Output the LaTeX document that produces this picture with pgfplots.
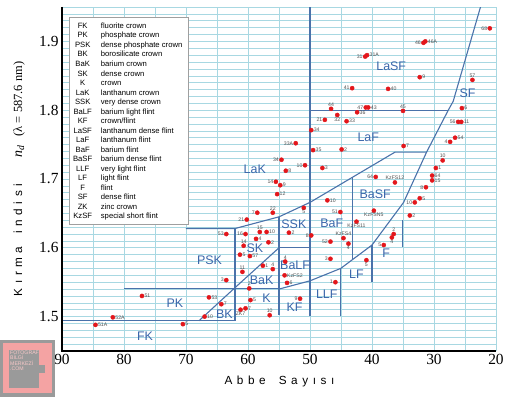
\documentclass[border=0pt]{standalone}
\usepackage{pgfplots}
\pgfplotsset{compat=1.18}
\usepackage{fontspec}
\setmainfont{Liberation Serif}
\setsansfont{Liberation Sans}
\definecolor{gridc}{HTML}{A8D8E2}
\definecolor{bndc}{HTML}{4A72AA}
\definecolor{regtxt}{HTML}{3A66AA}
\definecolor{ptred}{HTML}{E3161B}
\definecolor{lblc}{HTML}{505050}
\definecolor{pinkc}{HTML}{F4A3A3}
\definecolor{wmgray}{HTML}{9A9A9A}
\newcommand\ls{\hspace{4.6bp}}
\tikzset{
  bline/.style={color=bndc, line width=1.1bp},
  lbl/.style={font=\sffamily\fontsize{5.2}{5.2}\selectfont, text=lblc, inner sep=0.8bp},
  reg/.style={font=\sffamily\fontsize{12.5}{13}\selectfont, text=regtxt, inner sep=0pt},
}
\pgfplotsset{
  pts/.style={only marks, mark=*, mark size=2.1pt, color=ptred, mark options={draw=none, fill=ptred}},
}
\begin{document}
\begin{tikzpicture}
\useasboundingbox (-62bp,-47bp) rectangle (448bp,351bp);
\begin{axis}[
  scale only axis, width=434bp, height=344bp,
  at={(0,0)}, anchor=south west,
  xmin=20, xmax=90, ymin=1.45, ymax=1.95, x dir=reverse,
  xtick={20,30,40,50,60,70,80,90},
  xticklabels={20,30,40,50,60,70,80,90},
  ytick={1.5,1.6,1.7,1.8,1.9},
  yticklabels={1.5,1.6,1.7,1.8,1.9},
  minor xtick={25,35,45,55,65,75,85},
  minor ytick={1.45,1.46,1.47,1.48,1.49,1.51,1.52,1.53,1.54,1.55,1.56,1.57,1.58,1.59,1.61,1.62,1.63,1.64,1.65,1.66,1.67,1.68,1.69,1.71,1.72,1.73,1.74,1.75,1.76,1.77,1.78,1.79,1.81,1.82,1.83,1.84,1.85,1.86,1.87,1.88,1.89,1.91,1.92,1.93,1.94,1.95},
  grid=both,
  major grid style={gridc, line width=0.7bp},
  minor grid style={gridc, line width=0.6bp},
  axis line style={draw=none},
  major tick length=0pt, minor tick length=0pt,
  tick label style={font=\fontsize{15.5}{16}\selectfont},
]
% region boundaries
\addplot[bline, no marks] coordinates {(55,1.540) (50,1.552) (45.05,1.570) (40,1.604) (34.9,1.666) (31.2,1.739) (27.7,1.800) (26.9,1.813) (22.5,1.95)};
\addplot[bline, no marks] coordinates {(70,1.628) (62.1,1.628) (55,1.645) (50,1.666) (36.3,1.739) (31.2,1.739)};
\addplot[bline, no marks] coordinates {(50,1.80) (27.7,1.80)};
\addplot[bline, no marks] coordinates {(50,1.95) (50,1.501)};
\addplot[bline, no marks] coordinates {(55,1.645) (55,1.503)};
\addplot[bline, no marks] coordinates {(55,1.60) (50,1.60)};
\addplot[bline, no marks] coordinates {(67.9,1.494) (62.1,1.542) (55,1.600)};
\addplot[bline, no marks] coordinates {(80,1.541) (55,1.541)};
\addplot[bline, no marks] coordinates {(90,1.494) (62.1,1.494)};
\addplot[bline, no marks] coordinates {(62.1,1.628) (62.1,1.494)};
\addplot[bline, no marks] coordinates {(45.05,1.570) (45.05,1.501)};
\addplot[bline, no marks] coordinates {(40,1.604) (40,1.551)};
\addplot[bline, no marks] coordinates {(35.1,1.640) (35.1,1.601)};
\addplot[bline, no marks] coordinates {(43.2,1.702) (43.2,1.582)};
% glasses, label to the right
\addplot[pts, nodes near coords, point meta=explicit symbolic,
  nodes near coords style={lbl, anchor=west, xshift=1.6bp}] table[meta=l] {
x y l
31.4 1.900 46A
40.8 1.880 31A
32.3 1.848 9
37.4 1.831 40
40.6 1.804 43
42.4 1.797 36
25.5 1.803 6
44.1 1.784 33
49.8 1.771 34
25.6 1.783 11
49.5 1.742 35
44.9 1.743 2
34.9 1.748 7
26.6 1.760 54
48.0 1.716 3
29.7 1.716 1
30.3 1.705 64
30.3 1.698 15
32.3 1.672 5
33.9 1.647 2
47.2 1.669 10
84.6 1.488 51A
81.8 1.499 52A
77.1 1.530 51
70.5 1.489 5
66.3 1.528 53
64.3 1.518 7
67.0 1.500 10
59.6 1.524 5
60.4 1.512 7
57.0 1.623 10
58.7 1.613 4
56.7 1.608 2
61.3 1.590 5
59.7 1.588 57
53.4 1.622 2
54.1 1.560 KzFS2
53.7 1.549 6
53.9 1.712 8
54.8 1.691 9
55.3 1.678 12
57.6 1.574 1
};
% label to the left
\addplot[pts, nodes near coords, point meta=explicit symbolic,
  nodes near coords style={lbl, anchor=east, xshift=-1.6bp}] table[meta=l] {
x y l
21.0 1.919 68
31.7 1.898 46
41.1 1.878 31
43.2 1.832 41
41.0 1.804 47
47.6 1.786 21
26.1 1.783 56
52.3 1.752 33A
27.4 1.754 4
50.8 1.720 10
39.4 1.703 64
31.3 1.688 8
33.1 1.666 10
45.1 1.652 51
46.7 1.609 52
38.1 1.604 5
46.7 1.584 3
45.9 1.550 1
51.6 1.526 9
49.8 1.618 8
54.6 1.728 34
55.5 1.696 14
58.5 1.651 7
60.2 1.641 21
63.5 1.620 53
60.4 1.620 16
63.5 1.553 3
};
% label above
\addplot[pts, nodes near coords, point meta=explicit symbolic,
  nodes near coords style={lbl, anchor=south, yshift=1.4bp}] table[meta=l] {
x y l
23.8 1.844 57
46.6 1.802 44
35.0 1.799 45
28.6 1.727 10
36.3 1.695 KzFS12
36.5 1.620 2
44.6 1.614 KzFS4
56.0 1.651 22
58.1 1.623 15
60.7 1.603 14
56.0 1.569 4
60.9 1.565 11
59.8 1.541 2
56.5 1.502 10
54.0 1.580 4
};
% label below
\addplot[pts, nodes near coords, point meta=explicit symbolic,
  nodes near coords style={lbl, anchor=north, yshift=-1.4bp}] table[meta=l] {
x y l
45.6 1.793 32
39.7 1.654 KzFSN5
42.5 1.638 KzFS11
43.8 1.606 4
36.8 1.615 4
40.9 1.582 5
51.0 1.658 5
61.2 1.510 ZK7
};
% region names
\node[reg] at (axis cs:76.6,1.472) {FK};
\node[reg] at (axis cs:71.8,1.519) {PK};
\node[reg] at (axis cs:66.2,1.582) {PSK};
\node[reg] at (axis cs:63.8,1.503) {BK};
\node[reg] at (axis cs:58.9,1.600) {SK};
\node[reg] at (axis cs:57.8,1.553) {BaK};
\node[reg] at (axis cs:57.0,1.526) {K};
\node[reg] at (axis cs:52.6,1.635) {SSK};
\node[reg] at (axis cs:52.4,1.5745) {BaLF};
\node[reg] at (axis cs:52.5,1.513) {KF};
\node[reg] at (axis cs:46.5,1.636) {BaF};
\node[reg] at (axis cs:47.3,1.533) {LLF};
\node[reg] at (axis cs:42.5,1.562) {LF};
\node[reg] at (axis cs:37.7,1.592) {F};
\node[reg] at (axis cs:39.5,1.678) {BaSF};
\node[reg] at (axis cs:36.9,1.864) {LaSF};
\node[reg] at (axis cs:24.6,1.825) {SF};
\node[reg] at (axis cs:40.6,1.760) {LaF};
\node[reg] at (axis cs:58.9,1.714) {LaK};
\end{axis}
% axis frame
\draw[black, line width=1.6bp] (0,344bp) -- (0,0) -- (434bp,0);
% legend box
\draw[gray!75, line width=0.6bp, fill=white] (7bp,334bp) rectangle (126bp,127bp);
\foreach \a/\d [count=\i from 0] in {FK/{fluorite crown},PK/{phosphate crown},PSK/{dense phosphate crown},BK/{borosilicate crown},BaK/{barium crown},SK/{dense crown},K/{crown},LaK/{lanthanum crown},SSK/{very dense crown},BaLF/{barium light flint},KF/{crown/flint},LaSF/{lanthanum dense flint},LaF/{lanthanum flint},BaF/{barium flint},BaSF/{barium dense flint},LLF/{very light flint},LF/{light flint},F/{flint},SF/{dense flint},ZK/{zinc crown},KzSF/{special short flint}} {
  \node[font=\sffamily\fontsize{7.7}{8}\selectfont, anchor=base, inner sep=0pt] at (20.7bp, {322.6bp-9.53bp*\i}) {\a};
  \node[font=\sffamily\fontsize{7.7}{8}\selectfont, anchor=base west, inner sep=0pt] at (38.7bp, {322.6bp-9.53bp*\i}) {\d};
}
% axis titles
\node[anchor=center, inner sep=0pt] at (217.5bp,-30.7bp) {\fontsize{11.8}{12}\selectfont\sffamily A\ls b\ls b\ls e\hspace{13bp}S\ls a\ls y\ls ı\ls s\ls ı};
\node[rotate=90, anchor=center, inner sep=0pt] at (-43bp,172bp) {\fontsize{11.8}{12}\selectfont\sffamily K\ls ı\ls r\ls m\ls a\hspace{13bp}i\ls n\ls d\ls i\ls s\ls i\hspace{26bp}{\rmfamily\fontsize{14}{14}\selectfont\itshape n\textsubscript{d}}\hspace{9bp}{\rmfamily\fontsize{12.5}{13}\selectfont (λ = 587.6 nm)}};
% watermark logo
\fill[wmgray] (-62bp,11bp) rectangle (-7bp,-46bp);
\fill[pinkc] (-58.7bp,7.5bp) rectangle (-10.3bp,-42bp);
\fill[wmgray] (-52.7bp,1bp) rectangle (-22.7bp,-37bp);
\fill[wmgray] (-22.7bp,-14bp) rectangle (-17bp,-22bp);
\node[font=\sffamily\fontsize{5.2}{5.2}\selectfont, text=pinkc!60!white, anchor=north west, inner sep=0pt, align=left] at (-52bp,0bp) {FOTOGRAF\\B\.ILG\.I\\MERKEZ\.I\\.COM};
\end{tikzpicture}
\end{document}
